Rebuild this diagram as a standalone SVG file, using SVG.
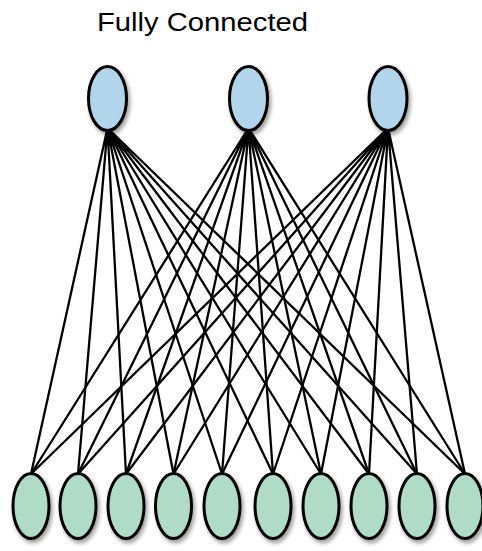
<svg xmlns="http://www.w3.org/2000/svg" width="482" height="551" viewBox="0 0 482 551">
<style>
.title{font-family:"Liberation Sans",Arial,sans-serif;font-size:25px;fill:#000}
.top{fill:#b3d5ec;stroke:#000;stroke-width:3}
.bot{fill:#b0dbc6;stroke:#000;stroke-width:3}
.edge{stroke:#000;stroke-width:2.3;fill:none}
</style>
<defs>
<filter id="sh" x="-50%" y="-50%" width="200%" height="200%">
<feGaussianBlur in="SourceAlpha" stdDeviation="2"/>
<feOffset dx="2" dy="3" result="b"/>
<feComponentTransfer><feFuncA type="linear" slope="0.4"/></feComponentTransfer>
<feMerge><feMergeNode/><feMergeNode in="SourceGraphic"/></feMerge>
</filter>
</defs>
<rect width="482" height="551" fill="#fff"/>
<text class="title" x="97" y="31" textLength="211" lengthAdjust="spacingAndGlyphs">Fully Connected</text>
<g id="connectors">
<path class="edge" d="M107.5 128L31 474M107.5 128L78 474M107.5 128L126 474M107.5 128L173.5 474M107.5 128L222 474M107.5 128L273 474M107.5 128L321 474M107.5 128L369 474M107.5 128L417 474M107.5 128L465 474"/>
<path class="edge" d="M248.5 128L31 474M248.5 128L78 474M248.5 128L126 474M248.5 128L173.5 474M248.5 128L222 474M248.5 128L273 474M248.5 128L321 474M248.5 128L369 474M248.5 128L417 474M248.5 128L465 474"/>
<path class="edge" d="M388 128L31 474M388 128L78 474M388 128L126 474M388 128L173.5 474M388 128L222 474M388 128L273 474M388 128L321 474M388 128L369 474M388 128L417 474M388 128L465 474"/>
</g>
<g id="t1" filter="url(#sh)"><ellipse class="top" cx="107.5" cy="98.5" rx="19" ry="32"/></g>
<g id="t2" filter="url(#sh)"><ellipse class="top" cx="248.5" cy="98.5" rx="19" ry="32"/></g>
<g id="t3" filter="url(#sh)"><ellipse class="top" cx="388" cy="98.5" rx="19" ry="32"/></g>
<g id="b1" filter="url(#sh)"><ellipse class="bot" cx="31" cy="506" rx="18" ry="32.5"/></g>
<g id="b2" filter="url(#sh)"><ellipse class="bot" cx="78" cy="506" rx="18" ry="32.5"/></g>
<g id="b3" filter="url(#sh)"><ellipse class="bot" cx="126" cy="506" rx="18" ry="32.5"/></g>
<g id="b4" filter="url(#sh)"><ellipse class="bot" cx="173.5" cy="506" rx="18" ry="32.5"/></g>
<g id="b5" filter="url(#sh)"><ellipse class="bot" cx="222" cy="506" rx="18" ry="32.5"/></g>
<g id="b6" filter="url(#sh)"><ellipse class="bot" cx="273" cy="506" rx="18" ry="32.5"/></g>
<g id="b7" filter="url(#sh)"><ellipse class="bot" cx="321" cy="506" rx="18" ry="32.5"/></g>
<g id="b8" filter="url(#sh)"><ellipse class="bot" cx="369" cy="506" rx="18" ry="32.5"/></g>
<g id="b9" filter="url(#sh)"><ellipse class="bot" cx="417" cy="506" rx="18" ry="32.5"/></g>
<g id="b10" filter="url(#sh)"><ellipse class="bot" cx="465" cy="506" rx="18" ry="32.5"/></g>
</svg>
